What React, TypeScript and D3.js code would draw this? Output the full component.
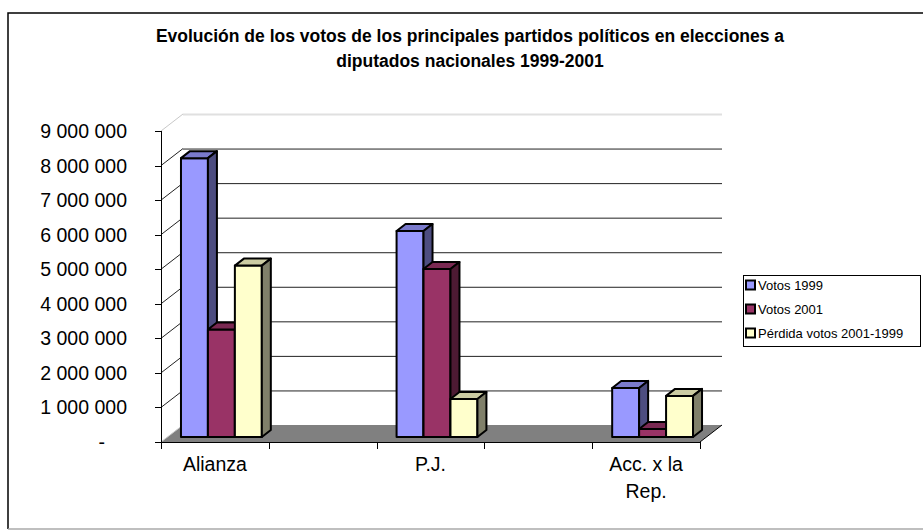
import React, { useEffect, useRef } from 'react';
import * as d3 from 'd3';

const titleLines = [
  'Evolución de los votos de los principales partidos políticos en elecciones a',
  'diputados nacionales 1999-2001',
];
// blank slots are the empty columns of the source sheet
const slots = ['Alianza', 'gap1', 'P.J.', 'gap2', 'Acc. x la Rep.'];
const categories = ['Alianza', 'P.J.', 'Acc. x la Rep.'];
const categoryLabels = [['Alianza'], ['P.J.'], ['Acc. x la', 'Rep.']];
const seriesNames = ['Votos 1999', 'Votos 2001', 'Pérdida votos 2001-1999'];
const votos1999 = [8070000, 5960000, 1420000];
const votos2001 = [3110000, 4860000, 230000];
const perdida = [4960000, 1100000, 1190000];
const yTicks = [0, 1000000, 2000000, 3000000, 4000000, 5000000, 6000000, 7000000, 8000000, 9000000];

const App = () => {
  const svgRef = useRef(null);

  useEffect(() => {
    const svg = d3.select(svgRef.current);
    svg.selectAll('*').remove();

    const width = 923;
    const height = 531;
    const font = '"Liberation Sans", Arial, sans-serif';
    const plot = { left: 161, right: 700, top: 131, bottom: 442 };
    const depth = { dx: 22, dy: -17 }; // floor / back wall offset
    const bar = { dx: 9, dy: -7 }; // bar thickness
    const off = { dx: (depth.dx - bar.dx) / 2, dy: (depth.dy - bar.dy) / 2 };

    const colors = [
      { front: '#9999FF', top: '#7A7ACC', side: '#4D4D80' },
      { front: '#993366', top: '#7A2952', side: '#4D1A33' },
      { front: '#FFFFCC', top: '#CCCCA3', side: '#80806A' },
    ];
    const series = [votos1999, votos2001, perdida];

    svg.attr('width', width).attr('height', height);

    // outer frame
    svg.append('path')
      .attr('d', `M8,529 L8,13 L930,13`)
      .attr('fill', 'none')
      .attr('stroke', '#000')
      .attr('stroke-width', 1.5);
    svg.append('line')
      .attr('x1', 8).attr('x2', 923).attr('y1', 529).attr('y2', 529)
      .attr('stroke', '#aaa').attr('stroke-width', 1.5);

    // title
    svg.append('g')
      .selectAll('text')
      .data(titleLines)
      .enter()
      .append('text')
      .attr('x', 470)
      .attr('y', (d, i) => 42 + i * 25)
      .attr('text-anchor', 'middle')
      .attr('font-family', font)
      .attr('font-weight', 'bold')
      .attr('font-size', 17.5)
      .text(d => d);

    const x = d3.scaleBand()
      .domain(slots)
      .range([plot.left, plot.right])
      .padding(0);

    const y = d3.scaleLinear()
      .domain([0, 9000000])
      .range([plot.bottom, plot.top]);

    const groupPad = x.bandwidth() * 0.125;
    const xs = d3.scaleBand()
      .domain(seriesNames)
      .range([groupPad, x.bandwidth() - groupPad])
      .padding(0);

    // back wall gridlines
    svg.append('g')
      .selectAll('line')
      .data(yTicks.filter(d => d > 0))
      .enter()
      .append('line')
      .attr('x1', plot.left + depth.dx)
      .attr('x2', plot.right + depth.dx)
      .attr('y1', d => y(d) + depth.dy + 0.5)
      .attr('y2', d => y(d) + depth.dy + 0.5)
      .attr('stroke', d => d === 9000000 ? '#e0e0e0' : '#222')
      .attr('stroke-width', d => d === 9000000 ? 2 : 1);

    // side wall diagonals
    svg.append('g')
      .selectAll('line')
      .data(yTicks.filter(d => d > 0))
      .enter()
      .append('line')
      .attr('x1', plot.left)
      .attr('x2', plot.left + depth.dx)
      .attr('y1', d => y(d))
      .attr('y2', d => y(d) + depth.dy)
      .attr('stroke', d => d === 9000000 ? '#c8c8c8' : '#222')
      .attr('stroke-width', 1);

    // floor
    svg.append('path')
      .attr('d', `M${plot.left},${plot.bottom} L${plot.right},${plot.bottom} L${plot.right + depth.dx},${plot.bottom + depth.dy} L${plot.left + depth.dx},${plot.bottom + depth.dy} Z`)
      .attr('fill', '#808080');
    svg.append('line')
      .attr('x1', plot.left).attr('y1', plot.bottom)
      .attr('x2', plot.left + depth.dx).attr('y2', plot.bottom + depth.dy)
      .attr('stroke', '#c8c8c8');
    svg.append('line')
      .attr('x1', plot.right).attr('y1', plot.bottom)
      .attr('x2', plot.right + depth.dx).attr('y2', plot.bottom + depth.dy)
      .attr('stroke', '#000');

    // axes
    svg.append('line')
      .attr('x1', plot.left + 0.5).attr('x2', plot.left + 0.5)
      .attr('y1', plot.top).attr('y2', plot.bottom + 0.5)
      .attr('stroke', '#000');
    svg.append('line')
      .attr('x1', plot.left - 6).attr('x2', plot.right)
      .attr('y1', plot.bottom + 0.5).attr('y2', plot.bottom + 0.5)
      .attr('stroke', '#000');

    svg.append('g')
      .selectAll('line')
      .data(yTicks)
      .enter()
      .append('line')
      .attr('x1', plot.left - 6)
      .attr('x2', plot.left)
      .attr('y1', d => Math.round(y(d)) + 0.5)
      .attr('y2', d => Math.round(y(d)) + 0.5)
      .attr('stroke', '#000');

    const fmt = d => d === 0 ? '-' : d3.format(',')(d).replace(/,/g, ' ');
    svg.append('g')
      .selectAll('text')
      .data(yTicks)
      .enter()
      .append('text')
      .attr('x', d => d === 0 ? 105 : 127)
      .attr('y', d => y(d))
      .attr('dy', '0.36em')
      .attr('text-anchor', 'end')
      .attr('font-family', font)
      .attr('font-size', 19.5)
      .text(fmt);

    // category ticks
    const tickXs = slots.map(s => x(s)).concat([plot.right]);
    svg.append('g')
      .selectAll('line')
      .data(tickXs)
      .enter()
      .append('line')
      .attr('x1', d => Math.round(d) + 0.5)
      .attr('x2', d => Math.round(d) + 0.5)
      .attr('y1', plot.bottom)
      .attr('y2', plot.bottom + 7)
      .attr('stroke', '#000');

    // category labels
    categories.forEach((c, ci) => {
      const cx = x(c) + x.bandwidth() / 2;
      svg.append('g')
        .selectAll('text')
        .data(categoryLabels[ci])
        .enter()
        .append('text')
        .attr('x', cx)
        .attr('y', (d, i) => 471 + i * 27)
        .attr('text-anchor', 'middle')
        .attr('font-family', font)
        .attr('font-size', 19.5)
        .text(d => d);
    });

    // 3d bars
    const bars = svg.append('g')
      .attr('stroke', '#000')
      .attr('stroke-width', 2)
      .attr('stroke-linejoin', 'round');
    categories.forEach((c, ci) => {
      seriesNames.forEach((s, si) => {
        const v = series[si][ci];
        const x0 = x(c) + xs(s) + off.dx;
        const x1 = x0 + xs.bandwidth();
        const yb = y(0) + off.dy;
        const yt = y(v) + off.dy;
        const col = colors[si];
        bars.append('rect')
          .attr('x', x0).attr('y', yt)
          .attr('width', x1 - x0).attr('height', yb - yt)
          .attr('fill', col.front);
        bars.append('path')
          .attr('d', `M${x0},${yt} L${x0 + bar.dx},${yt + bar.dy} L${x1 + bar.dx},${yt + bar.dy} L${x1},${yt} Z`)
          .attr('fill', col.top);
        bars.append('path')
          .attr('d', `M${x1},${yt} L${x1 + bar.dx},${yt + bar.dy} L${x1 + bar.dx},${yb + bar.dy} L${x1},${yb} Z`)
          .attr('fill', col.side);
      });
    });

    // legend
    const legend = svg.append('g');
    legend.append('rect')
      .attr('x', 743.5).attr('y', 275.5)
      .attr('width', 177).attr('height', 71)
      .attr('fill', '#fff')
      .attr('stroke', '#000');
    const items = legend.selectAll('g.item')
      .data(seriesNames)
      .enter()
      .append('g')
      .attr('class', 'item')
      .attr('transform', (d, i) => `translate(746,${285 + i * 24})`);
    items.append('rect')
      .attr('x', 0).attr('y', -4.5)
      .attr('width', 9).attr('height', 9)
      .attr('fill', (d, i) => colors[i].front)
      .attr('stroke', '#000')
      .attr('stroke-width', 2);
    items.append('text')
      .attr('x', 12)
      .attr('y', 0)
      .attr('dy', '0.36em')
      .attr('font-family', font)
      .attr('font-size', 13)
      .text(d => d);
  }, []);

  return (
    <svg
      ref={svgRef}
      viewBox="0 0 923 531"
      style={{ position: 'absolute', left: 0, top: 0, display: 'block', background: '#fff' }}
    ></svg>
  );
};

export default App;
